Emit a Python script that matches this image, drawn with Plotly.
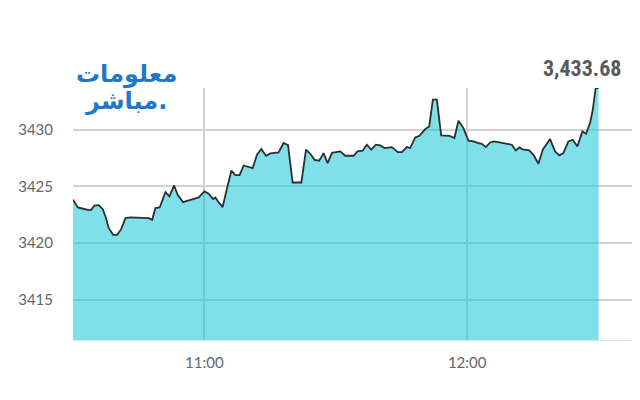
import plotly.graph_objects as go

times = [
    "10:30:00", "10:31:06", "10:32:06", "10:33:36", "10:34:09", "10:34:54", "10:35:53", "10:36:48",
    "10:37:25", "10:38:10", "10:39:10", "10:40:05", "10:41:00", "10:41:59", "10:43:07", "10:47:18",
    "10:48:04", "10:48:49", "10:49:48", "10:51:06", "10:52:01", "10:53:05", "10:53:54", "10:55:08",
    "10:56:03", "10:58:42", "11:00:00", "11:00:59", "11:01:59", "11:02:31", "11:03:07", "11:04:10",
    "11:05:11", "11:06:10", "11:07:04", "11:08:03", "11:08:58", "11:10:06", "11:11:01", "11:12:01",
    "11:13:00", "11:14:05", "11:15:03", "11:16:57", "11:18:05", "11:19:06", "11:20:09", "11:22:08",
    "11:23:12", "11:24:11", "11:25:10", "11:26:14", "11:27:13", "11:28:08", "11:29:08", "11:31:02",
    "11:32:10", "11:34:04", "11:34:58", "11:36:07", "11:37:07", "11:38:06", "11:39:10", "11:40:09",
    "11:41:08", "11:42:49", "11:44:11", "11:45:06", "11:46:14", "11:47:00", "11:48:08", "11:49:07",
    "11:50:25", "11:51:20", "11:52:10", "11:53:05", "11:54:04", "11:55:58", "11:57:06", "11:58:01",
    "11:59:09", "12:00:18", "12:01:26", "12:02:35", "12:03:21", "12:04:16", "12:05:15", "12:06:09",
    "12:07:55", "12:09:25", "12:10:12", "12:11:06", "12:11:56", "12:12:51", "12:14:13", "12:15:17",
    "12:16:16", "12:17:16", "12:18:56", "12:20:05", "12:21:03", "12:21:58", "12:23:07", "12:24:07",
    "12:25:10", "12:26:18", "12:27:09", "12:28:04", "12:28:41", "12:29:21", "12:30:00",
]
values = [
    3423.83, 3423.15, 3423.06, 3422.92, 3422.94, 3423.32, 3423.36, 3423.00,
    3422.35, 3421.33, 3420.74, 3420.74, 3421.24, 3422.21, 3422.27, 3422.21,
    3422.06, 3423.09, 3423.15, 3424.50, 3424.12, 3425.09, 3424.27, 3423.62,
    3423.74, 3424.03, 3424.56, 3424.36, 3423.89, 3424.03, 3423.68, 3423.18,
    3424.86, 3426.41, 3426.00, 3426.00, 3426.85, 3426.71, 3426.62, 3427.80,
    3428.30, 3427.71, 3427.91, 3428.00, 3428.83, 3428.65, 3425.35, 3425.35,
    3428.24, 3427.88, 3427.35, 3427.27, 3427.94, 3427.06, 3427.97, 3428.09,
    3427.71, 3427.71, 3428.09, 3428.15, 3428.68, 3428.24, 3428.68, 3428.62,
    3428.39, 3428.47, 3428.03, 3428.03, 3428.47, 3428.39, 3429.32, 3429.47,
    3430.06, 3430.29, 3432.65, 3432.65, 3429.50, 3429.47, 3429.27, 3430.79,
    3430.15, 3429.03, 3428.97, 3428.82, 3428.76, 3428.47, 3428.88, 3428.97,
    3428.82, 3428.68, 3428.68, 3428.18, 3428.44, 3428.24, 3428.18, 3427.71,
    3427.00, 3428.24, 3429.18, 3428.09, 3427.74, 3427.94, 3428.97, 3429.12,
    3428.53, 3429.85, 3429.65, 3430.59, 3431.76, 3433.68, 3433.68,
]
y_ticks = [3415, 3420, 3425, 3430]
x_ticks = ["11:00", "12:00"]
last_label = "3,433.68"
logo_lines = ["معلومات", "مباشر."]

day = "2020-01-01 "
xs = [day + t for t in times]

fig = go.Figure()
fig.add_trace(go.Scatter(
    x=xs, y=values, mode="lines",
    line=dict(color="#2a2f31", width=1.8),
    fill="tozeroy", fillcolor="rgba(24,199,217,0.55)",
    hoverinfo="skip", showlegend=False,
))

fig.update_layout(
    width=640, height=400,
    margin=dict(l=65, r=8, t=80, b=68),
    paper_bgcolor="white", plot_bgcolor="white",
    font=dict(family="Lato, Open Sans, sans-serif", color="#666666", size=15),
    xaxis=dict(
        type="date",
        range=[day + "10:30:00", day + "12:39:28"],
        tickvals=[day + t + ":00" for t in x_ticks],
        ticktext=x_ticks,
        showgrid=True, gridcolor="#d2d2d2", gridwidth=1.5,
        ticks="outside", ticklen=9, tickcolor="rgba(0,0,0,0)",
        showline=True, linecolor="#cfe3f0", linewidth=1,
        zeroline=False,
        tickfont=dict(size=15, color="#666666"),
    ),
    yaxis=dict(
        range=[3411.47, 3433.68],
        tickvals=y_ticks,
        showgrid=True, gridcolor="#d2d2d2", gridwidth=1.5,
        ticks="outside", ticklen=16, tickcolor="rgba(0,0,0,0)",
        zeroline=False, showline=False,
        tickfont=dict(size=15, color="#666666"),
    ),
)

fig.add_annotation(
    xref="paper", yref="paper", x=1 - 58 / 567, y=1 + 20 / 252,
    text="<b>" + last_label + "</b>", showarrow=False,
    xanchor="center", yanchor="middle",
    font=dict(family="Liberation Sans Narrow, Roboto Condensed, Roboto, sans-serif", size=22, color="#595959"),
)

fig.add_annotation(
    xref="paper", yref="paper", x=(126 - 73) / 567, y=1 + (88 - 74) / 252,
    text="<b>" + logo_lines[0] + "</b>", showarrow=False,
    xanchor="center", yanchor="middle",
    font=dict(family="DejaVu Sans, Noto Sans", size=24, color="#1f78c8"),
)
fig.add_annotation(
    xref="paper", yref="paper", x=(126 - 73) / 567, y=1 + (88 - 101) / 252,
    text="<b>" + logo_lines[1] + "</b>", showarrow=False,
    xanchor="center", yanchor="middle",
    font=dict(family="DejaVu Sans, Noto Sans", size=24, color="#1f78c8"),
)

fig.write_html("out.html")
